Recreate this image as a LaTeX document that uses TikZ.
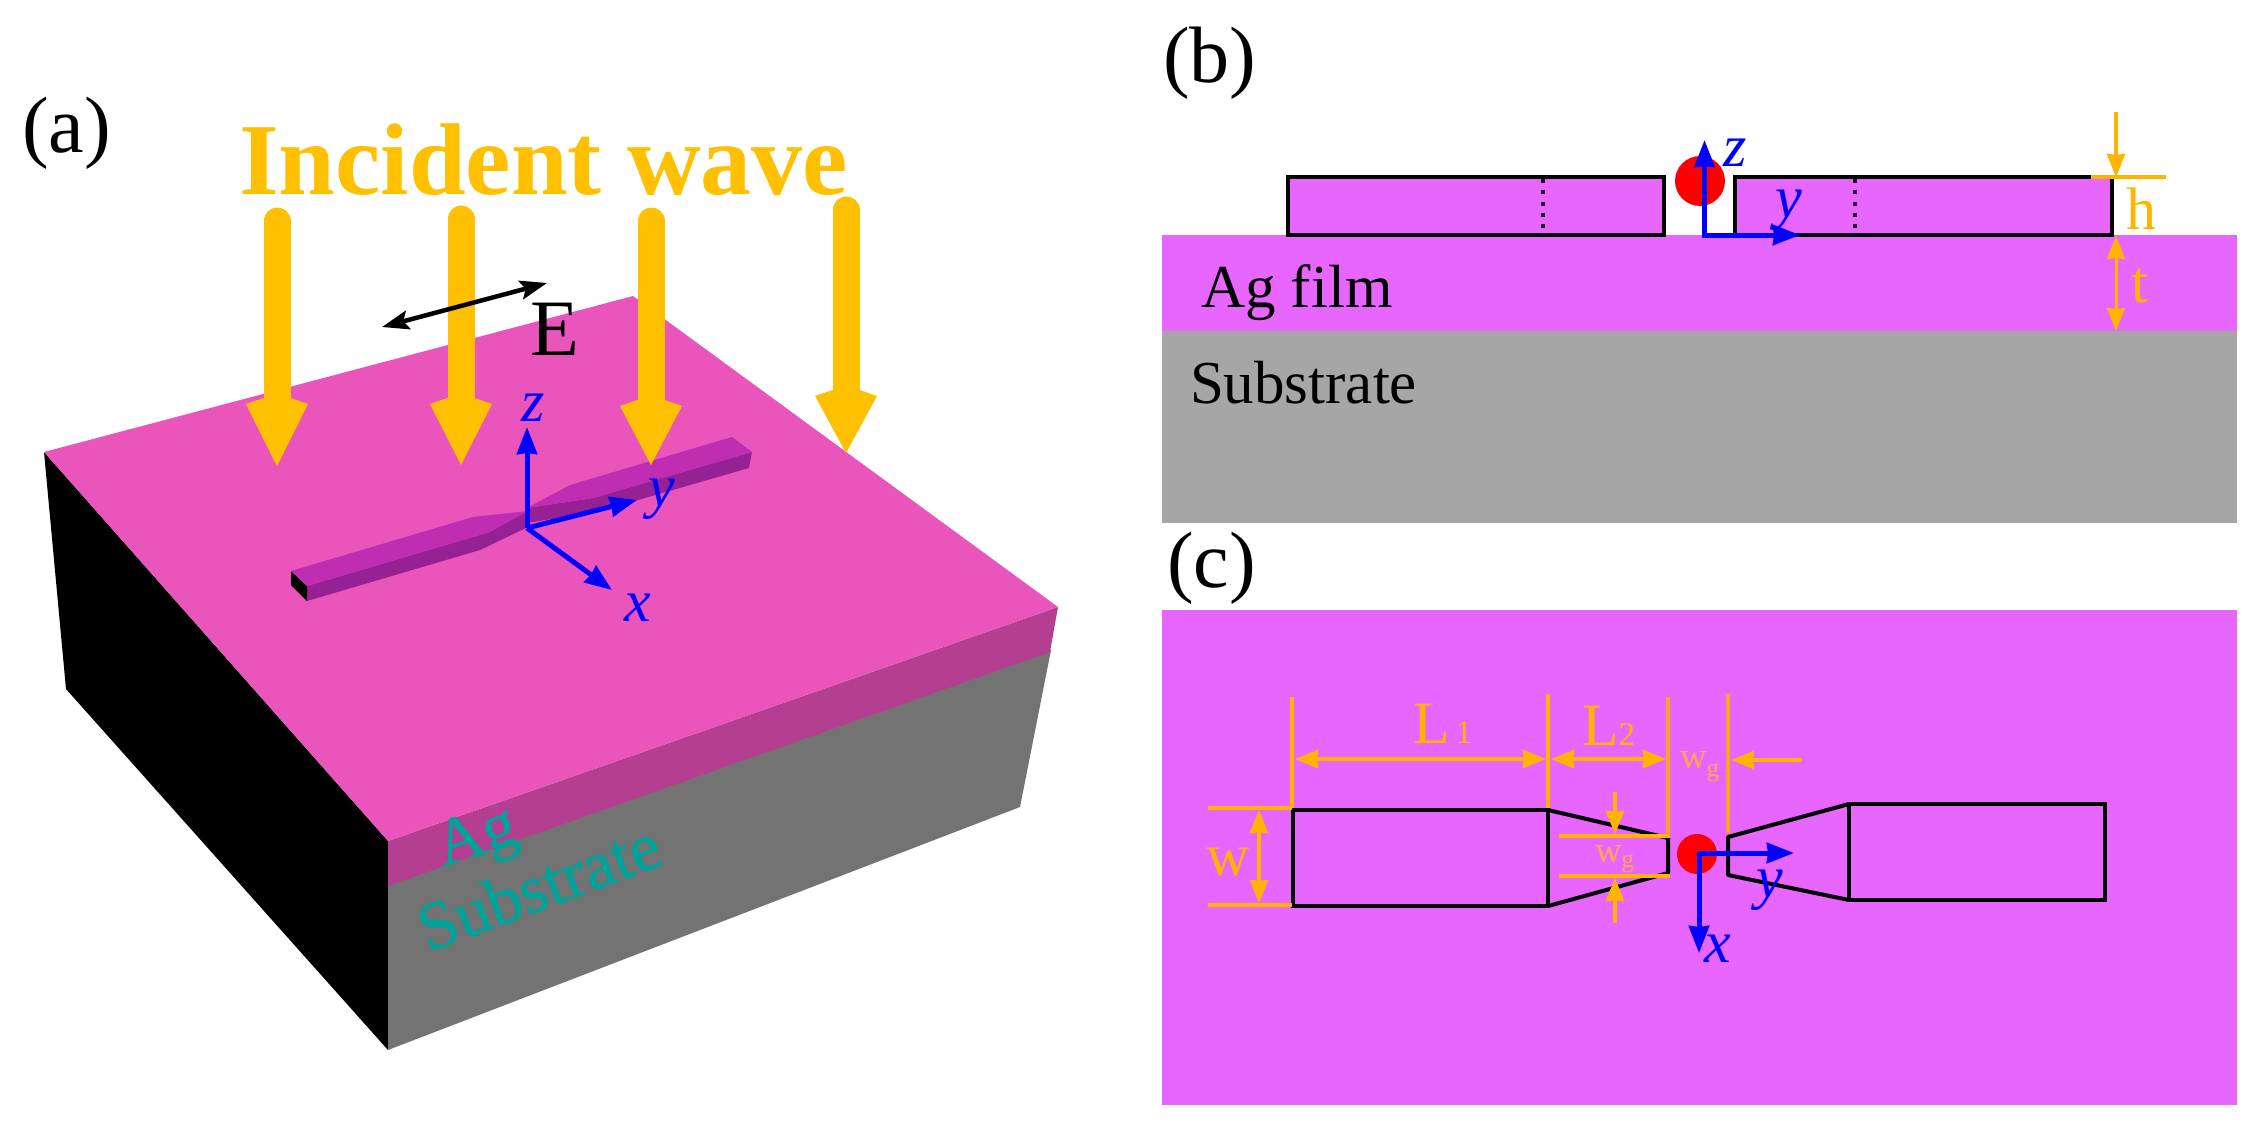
\documentclass[tikz,border=0pt]{standalone}
\usepackage{fontspec}
\setmainfont{Liberation Serif}
\newfontfamily\fatserif[FakeBold=1.2]{Liberation Serif}
\usetikzlibrary{arrows.meta}
\definecolor{waveor}{HTML}{FFC000}
\definecolor{dimor}{HTML}{FFB400}
\definecolor{dimpale}{HTML}{FFA64D}
\definecolor{extor}{HTML}{FBA51E}
\definecolor{toppink}{HTML}{E955BB}
\definecolor{agside}{HTML}{B43F90}
\definecolor{subside}{HTML}{737373}
\definecolor{ridgetop}{HTML}{BE2DB2}
\definecolor{ridgeside}{HTML}{952195}
\definecolor{film}{HTML}{E666FF}
\definecolor{subgray}{HTML}{A6A6A6}
\definecolor{teal3d}{HTML}{00A29A}
\newcommand{\fs}[1]{\fontsize{#1pt}{#1pt}\selectfont}
\tikzset{
  txt/.style={inner sep=0pt,outer sep=0pt,anchor=base west},
  ctxt/.style={inner sep=0pt,outer sep=0pt,anchor=base},
  axis/.style={blue,line width=5pt,-{Stealth[length=27pt,width=20pt,inset=1pt]}},
  dimline/.style={dimor,line width=3.5pt},
  dimarrow/.style={dimor,line width=4pt,{Stealth[length=23pt,width=18pt,inset=1pt]}-{Stealth[length=23pt,width=18pt,inset=1pt]}},
  dimend/.style={dimor,line width=4pt,-{Stealth[length=23pt,width=18pt,inset=1pt]}},
  outl/.style={black,line width=4pt,line join=miter},
  dots/.style={black!85!film,line width=4pt,dash pattern=on 4pt off 7.3pt},
  shaft/.style={waveor,line width=27pt,line cap=round}
}
\newcommand{\wavearrow}[4]{%
  \draw[shaft] (#1,#2) -- (#1,#3);
  \fill[waveor] (#1-13.5,#3) -- (#1-31,#3+6) -- (#1,#4) -- (#1+31,#3+6) -- (#1+13.5,#3) -- cycle;}
\begin{document}
\begin{tikzpicture}[x=1pt,y=-1pt]
\useasboundingbox (0,0) rectangle (2260,1125);
\fill[white] (0,0) rectangle (2260,1125);

% ---------- panel (a): block
\fill[black] (44,452) -- (388,841) -- (388,1050) -- (66,689) -- cycle;
\fill[subside] (388,884) -- (1051,650) -- (1020,807) -- (388,1050) -- cycle;
\fill[agside] (388,841) -- (1058,607) -- (1050,652) -- (388,886) -- cycle;
\fill[toppink] (44,452) -- (633,296) -- (1058,607) -- (388,841) -- cycle;

% ridge, left wing
\fill[ridgeside] (307,586) -- (490,532) -- (528,510) -- (528,527) -- (480,550) -- (307,601) -- cycle;
\fill[black] (291,571) -- (307,586) -- (307,601) -- (291,585) -- cycle;
\fill[ridgetop] (291,571) -- (473,517) -- (528,511) -- (490,532) -- (307,586) -- cycle;
% ridge, right wing
\fill[ridgeside] (527,508) -- (593,498) -- (752,452) -- (749,468) -- (600,511) -- (527,523) -- cycle;
\fill[ridgetop] (527,508) -- (570,485) -- (732,437) -- (752,452) -- (593,498) -- cycle;

% incident wave
\wavearrow{277}{221}{398}{466}
\wavearrow{461}{219}{398}{465}
\wavearrow{651}{221}{400}{465}
\wavearrow{846}{210}{390}{453}
\node[txt,text=waveor] (incident) at (239,194) {\fs{102}\bfseries Incident wave};

% E field
\coordinate (eleft) at (382,327);
\coordinate (eright) at (547,283);
\draw[black,line width=4.5pt,{Stealth[length=27pt,width=19pt,inset=5pt]}-{Stealth[length=27pt,width=19pt,inset=5pt]}] (eleft) -- (eright);
\node[txt] (elabel) at (530,355) {\fs{80}E};

% axes (a)
\coordinate (oa) at (527,528);
\coordinate (za) at (527,427);
\coordinate (ya) at (637,500);
\coordinate (xa) at (612,590);
\draw[axis] (oa) -- (za);
\draw[axis] (oa) -- (ya);
\draw[axis] (oa) -- (xa);
\node[ctxt,text=blue] (zlaba) at (533,421) {\fs{60}\itshape z};
\node[ctxt,text=blue] (ylaba) at (662,506) {\fs{60}\itshape y};
\node[ctxt,text=blue] (xlaba) at (638,621) {\fs{60}\itshape x};

% 3D texts
\node[ctxt,text=teal3d,rotate=18] (aglab) at (482,854) {\fs{66}\fatserif Ag};
\node[ctxt,text=teal3d,rotate=20.5] (sublab) at (547,908) {\fs{68}\fatserif Substrate};

% panel labels
\node[txt] (laba) at (22,152) {\fs{80}(a)};
\node[txt] (labb) at (1163,82) {\fs{80}(b)};
\node[txt] (labc) at (1167,587) {\fs{80}(c)};

% ---------- panel (b)
\fill[film] (1162,235) rectangle (2237,331);
\fill[subgray] (1162,331) rectangle (2237,523);
\draw[outl,fill=film] (1288,177) rectangle (1664,235);
\draw[outl,fill=film] (1735,177) rectangle (2112,235);
\draw[dots] (1543,179) -- (1543,235);
\draw[dots] (1855,179) -- (1855,235);
\fill[red] (1700,181) circle (25);
\coordinate (ob) at (1704.5,235);
\coordinate (zb) at (1704.5,140);
\coordinate (yb) at (1800,235);
\draw[axis] (ob) -- (zb);
\draw[axis] (1702,235) -- (yb);
\node[ctxt,text=blue] (zlabb) at (1735,166) {\fs{60}\itshape z};
\node[ctxt,text=blue] (ylabb) at (1789,217) {\fs{60}\itshape y};

\draw[dimline] (2091,177) -- (2166,177);
\draw[dimend] (2116,112) -- (2116,177);
\draw[dimarrow,line width=3pt] (2116,236) -- (2116,331);
\node[ctxt,text=dimor] (hlab) at (2141,229) {\fs{60}h};
\node[ctxt,text=dimor] (tlab) at (2140,302) {\fs{60}t};
\node[txt] (agfilm) at (1201,307) {\fs{61}Ag film};
\node[txt] (substrate) at (1190,403) {\fs{61}Substrate};

% ---------- panel (c)
\fill[film] (1162,610) rectangle (2237,1105);
\draw[outl] (1293,810) rectangle (1548,906);
\draw[outl,line join=round] (1548,810) -- (1668,838) -- (1668,873) -- (1548,906);
\draw[outl] (1849,804) rectangle (2105,900);
\draw[outl,line join=round] (1849,804) -- (1728,837) -- (1728,875) -- (1849,900);
\fill[red] (1697,854) circle (20);
\coordinate (oc) at (1699,853);
\coordinate (yc) at (1794,853);
\coordinate (xc) at (1699,953);
\draw[axis] (1696.5,853) -- (yc);
\draw[axis] (oc) -- (xc);
\node[ctxt,text=blue] (ylabc) at (1770,897) {\fs{60}\itshape y};
\node[ctxt,text=blue] (xlabc) at (1718,962) {\fs{60}\itshape x};

% extension lines
\draw[dimline,line width=4.5pt] (1292,697) -- (1292,808);
\draw[dimline,line width=4.5pt] (1548,694) -- (1548,808);
\draw[extor,line width=4.5pt] (1668,697) -- (1668,838);
\draw[extor,line width=4.5pt] (1728,694) -- (1728,833);
\draw[dimline] (1208,808) -- (1292,808);
\draw[dimline] (1208,905) -- (1292,905);
\draw[dimline] (1559,836) -- (1670,836);
\draw[dimline] (1559,876) -- (1670,876);

% dimension arrows
\draw[dimarrow] (1295,759) -- (1546,759);
\draw[dimarrow] (1551,759) -- (1666,759);
\draw[dimarrow] (1259,810) -- (1259,903);
\draw[dimend] (1802,760) -- (1731,760);
\draw[dimend] (1615,792) -- (1615,834);
\draw[dimend] (1615,923) -- (1615,878);

% dimension labels
\node[txt,text=dimor] (l1) at (1413,743) {\fs{60}L\hspace{6pt}\fs{33}1};
\node[txt,text=dimor] (l2) at (1582,745) {\fs{60}L\fs{33}2};
\node[ctxt,text=dimor] (wlab) at (1228,875) {\fs{60}w};
\node[txt,text=dimpale] (wg1) at (1595,862) {\fs{37}w\raisebox{-5pt}{\fs{25}g}};
\node[txt,text=dimpale] (wg2) at (1680,768) {\fs{37}w\raisebox{-8pt}{\fs{25}g}};
\end{tikzpicture}
\end{document}
